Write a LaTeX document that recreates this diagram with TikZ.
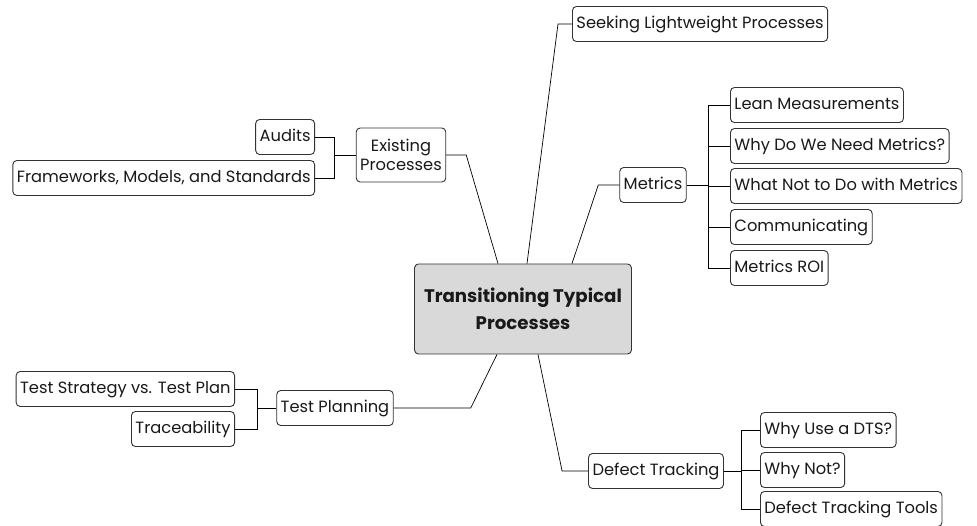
\documentclass[tikz,border=0pt]{standalone}
\usepackage{fontspec}
\setmainfont{Poppins}
\usepackage{tikz}
\usetikzlibrary{calc}

\begin{document}
\begin{tikzpicture}[x=1pt, y=-1pt,
        box/.style={draw=black!80, line width=0.9pt, rounded corners=4pt, fill=white,
            minimum height=35pt, inner xsep=4pt, text=black!90,
            font=\fontsize{16.3}{19}\selectfont},
        topic/.style={box, text height=12pt, text depth=3.5pt},
        hub/.style={box, fill=black!15, minimum width=217pt, minimum height=90pt,
            align=center, font=\bfseries\fontsize{18.2}{27}\selectfont},
        link/.style={line width=0.7pt}]
        \useasboundingbox (0,0) rectangle (977,526);
        % main topic
        \node[hub] (center) at (523,309) {Transitioning Typical\\Processes};
        % first level
        \node[box, align=center, minimum height=54pt] (exist) at (401,155) {Existing\\Processes};
        \node[topic, anchor=west] (seek) at (572,24) {Seeking Lightweight Processes};
        \node[topic] (metrics) at (653,185) {Metrics};
        \node[topic] (plan) at (335,408) {Test Planning};
        \node[topic] (defect) at (656,471) {Defect Tracking};
        \draw[link] (exist.east) -- ++(20,0) -- ($(center.north)+(-25,0)$);
        \draw[link] (seek.west) -- ++(-14,0) -- ($(center.north)+(4,0)$);
        \draw[link] (metrics.west) -- ++(-21,0) -- ($(center.north)+(49,0)$);
        \draw[link] (plan.east) -- ++(77,0) -- ($(center.south)+(-26,0)$);
        \draw[link] (defect.west) -- ++(-26,0) -- ($(center.south)+(15,0)$);
        % existing processes
        \node[topic, anchor=east] (audits) at (315,137) {Audits};
        \node[topic, anchor=east] (frame) at (315,178) {Frameworks, Models, and Standards};
        \coordinate (ebus) at (334,155);
        \draw[link] (exist.west) -- (ebus);
        \foreach \k in {audits, frame}
            \draw[link] (ebus) |- (\k.east);
        % metrics
        \node[topic, anchor=west] (lean) at (730,105) {Lean Measurements};
        \node[topic, anchor=west] (need) at (730,146) {Why Do We Need Metrics?};
        \node[topic, anchor=west] (wrong) at (730,186) {What Not to Do with Metrics};
        \node[topic, anchor=west] (talk) at (730,227) {Communicating};
        \node[topic, anchor=west] (roi) at (730,268) {Metrics ROI};
        \coordinate (mbus) at (708,185);
        \draw[link] (metrics.east) -- (mbus);
        \foreach \k in {lean, need, wrong, talk, roi}
            \draw[link] (mbus) |- (\k.west);
        % test planning
        \node[topic, anchor=east] (strategy) at (235,389) {Test Strategy vs. Test Plan};
        \node[topic, anchor=east] (trace) at (235,429) {Traceability};
        \coordinate (pbus) at (257,408);
        \draw[link] (plan.west) -- (pbus);
        \foreach \k in {strategy, trace}
            \draw[link] (pbus) |- (\k.east);
        % defect tracking
        \node[topic, anchor=west] (whydts) at (760,430) {Why Use a DTS?};
        \node[topic, anchor=west] (whynot) at (760,470) {Why Not?};
        \node[topic, anchor=west] (tools) at (760,509) {Defect Tracking Tools};
        \coordinate (dbus) at (741,471);
        \draw[link] (defect.east) -- (dbus);
        \foreach \k in {whydts, whynot, tools}
            \draw[link] (dbus) |- (\k.west);
    \end{tikzpicture}
\end{document}
